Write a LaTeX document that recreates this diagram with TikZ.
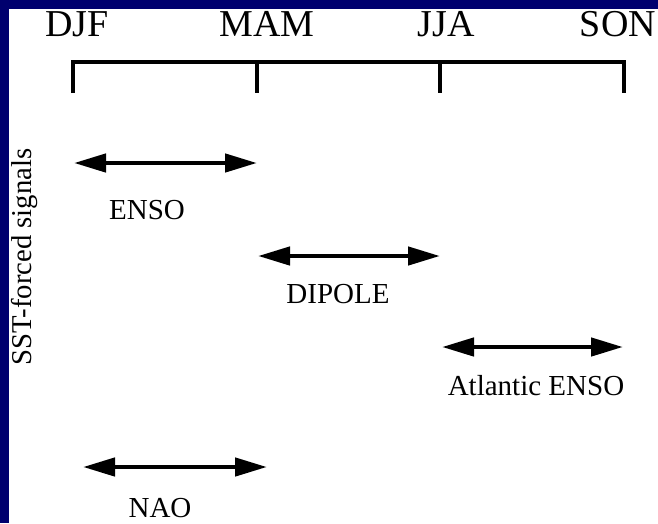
\documentclass[tikz,border=0pt]{standalone}
\usepackage{fontspec}
\setmainfont{Liberation Serif}
\usetikzlibrary{arrows.meta}

\begin{document}
\begin{tikzpicture}[x=1pt,y=-1pt,
  stagione/.style={anchor=base,font=\fontsize{38}{40}\selectfont},
  segnale/.style={anchor=base,inner sep=1pt,font=\fontsize{29}{31}\selectfont},
  freccia/.style={line width=4.5pt,{Triangle[length=32pt,width=18pt]}-{Triangle[length=32pt,width=18pt]}}]

% Colori
\definecolor{bordoBlu}{HTML}{00006E}

% Sfondo e cornice
\useasboundingbox (0,0) rectangle (658,523);
\fill[bordoBlu] (0,0) rectangle (658,523);
\fill[white] (9,9) rectangle (658,523);

% Stagioni (tacche della scala)
\coordinate (djf) at (73,62);
\coordinate (mam) at (257,62);
\coordinate (jja) at (440,62);
\coordinate (son) at (624,62);

\node[stagione] (tDJF) at (77,36) {DJF};
\node[stagione] (tMAM) at (267,36) {MAM};
\node[stagione] (tJJA) at (446,36) {JJA};
\node[stagione] (tSON) at (618,36) {SON};

% Scala
\draw[line width=4.5pt] ([yshift=-31pt]djf) -- (djf) -- (son) -- ([yshift=-31pt]son);
\draw[line width=4.5pt] (mam) -- ([yshift=-31pt]mam);
\draw[line width=4.5pt] (jja) -- ([yshift=-31pt]jja);

% Titolo laterale
\node[rotate=90,anchor=base,font=\fontsize{28.7}{30}\selectfont] (titolo) at (31,257) {SST-forced signals};

% ENSO
\coordinate (ensoA) at (74,163);
\coordinate (ensoB) at (257,163);
\draw[freccia] (ensoA) -- (ensoB);
\node[segnale] (enso) at (147,219) {ENSO};

% DIPOLE
\coordinate (dipA) at (258,256);
\coordinate (dipB) at (440,256);
\draw[freccia] (dipA) -- (dipB);
\node[segnale] (dip) at (338,303) {DIPOLE};

% Atlantic ENSO
\coordinate (atlA) at (442,347);
\coordinate (atlB) at (623,347);
\draw[freccia] (atlA) -- (atlB);
\node[segnale] (atl) at (536,395) {Atlantic ENSO};

% NAO
\coordinate (naoA) at (83,467);
\coordinate (naoB) at (267,467);
\draw[freccia] (naoA) -- (naoB);
\node[segnale] (nao) at (160,517) {NAO};

\end{tikzpicture}
\end{document}
